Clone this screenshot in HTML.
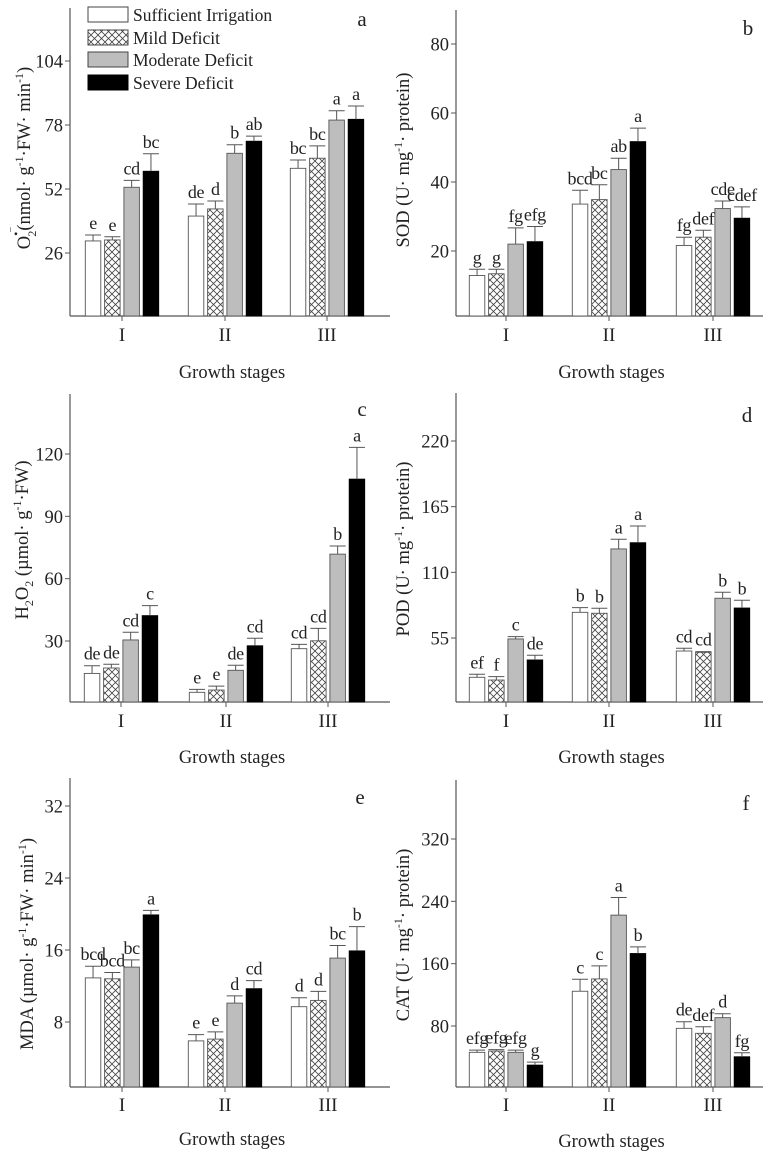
<!DOCTYPE html>
<html><head><meta charset="utf-8">
<style>
html,body{margin:0;padding:0;background:#fff;}
svg{display:block;font-family:"Liberation Serif","DejaVu Serif",serif;}
</style></head>
<body>
<svg id="fig" width="772" height="1153" viewBox="0 0 772 1153" xmlns="http://www.w3.org/2000/svg">
<defs>
<pattern id="hatch" patternUnits="userSpaceOnUse" width="7" height="7">
<rect width="7" height="7" fill="#fff"/>
<path d="M0,0 L7,7 M7,0 L0,7" stroke="#444" stroke-width="0.8"/>
</pattern>
</defs>
<g id="legend">
<rect x="88" y="7" width="40" height="15" fill="#fff" stroke="#444" stroke-width="1"/>
<text x="133" y="21" font-size="17.5" fill="#222">Sufficient Irrigation</text>
<rect x="88" y="30" width="40" height="15" fill="url(#hatch)" stroke="#444" stroke-width="1"/>
<text x="133" y="44" font-size="17.5" fill="#222">Mild Deficit</text>
<rect x="88" y="52" width="40" height="15" fill="#bdbdbd" stroke="#444" stroke-width="1"/>
<text x="133" y="66" font-size="17.5" fill="#222">Moderate Deficit</text>
<rect x="88" y="75" width="40" height="15" fill="#000" stroke="#000" stroke-width="1"/>
<text x="133" y="89" font-size="17.5" fill="#222">Severe Deficit</text>
</g>
</svg>
<script>
// ---- data ----
const categories = ["I","II","III"];
const seriesNames = ["Sufficient Irrigation","Mild Deficit","Moderate Deficit","Severe Deficit"];

const aTicks = [26,52,78,104];
const aVals = [[30.9,31.3,52.7,59.2],[41,43.9,66.5,71.4],[60.4,64.5,80,80.3]];
const aErr  = [[2.4,1.3,2.8,7.1],[4.9,3.2,3.5,2.1],[3.4,5,3.8,5.4]];
const aSig  = [["e","e","cd","bc"],["de","d","b","ab"],["bc","bc","a","a"]];

const bTicks = [20,40,60,80];
const bVals = [[12.9,13.4,22,22.7],[33.6,34.9,43.6,51.7],[21.6,24,32.3,29.5]];
const bErr  = [[1.8,1.3,4.7,4.4],[4,4.3,3.3,3.9],[2.4,2,2.2,3.3]];
const bSig  = [["g","g","fg","efg"],["bcd","bc","ab","a"],["fg","def","cde","cdef"]];

const cTicks = [30,60,90,120];
const cVals = [[14.4,17,30.5,42.2],[5.3,6.4,15.9,27.7],[26.3,30.1,71.8,107.9]];
const cErr  = [[3.7,1.8,3.7,4.8],[1.4,1.9,2.4,3.6],[2.1,6,3.9,15.3]];
const cSig  = [["de","de","cd","c"],["e","e","de","cd"],["cd","cd","b","a"]];

const dTicks = [55,110,165,220];
const dVals = [[22.1,19.8,54.2,36.6],[76.5,75.7,129.6,134.8],[44.1,43,88.3,80.1]];
const dErr  = [[2.5,2.8,1.9,3.9],[3.9,4.2,8.1,14],[2.3,0.6,5,6.5]];
const dSig  = [["ef","f","c","de"],["b","b","a","a"],["cd","cd","b","b"]];

const eTicks = [8,16,24,32];
const eVals = [[12.9,12.8,14.1,19.9],[5.9,6.1,10.1,11.7],[9.7,10.4,15.1,15.9]];
const eErr  = [[1.3,0.7,0.8,0.5],[0.7,0.8,0.8,0.9],[1,1,1.4,2.7]];
const eSig  = [["bcd","bcd","bc","a"],["e","e","d","cd"],["d","d","bc","b"]];

const fTicks = [80,160,240,320];
const fVals = [[46.2,47.8,46.2,29.8],[124.6,140.4,222.3,173],[77,70.6,90.7,40.5]];
const fErr  = [[2.9,1.9,2.8,3.9],[15.4,16.7,22.7,8.5],[8.5,8.4,5.1,5.1]];
const fSig  = [["efg","efg","efg","g"],["c","c","a","b"],["de","def","d","fg"]];

// ---- layout (pixels) ----
const panels = [
 {id:"a", ticks:aTicks, vals:aVals, err:aErr, sig:aSig, ax:70, top:8, bottom:316, right:390, v1:26, y1:253, v2:104, y2:61, gx:[122,225,327], letterX:362, letterY:26, catY:341, titleY:378, ylabX:30, ylabY:158},
 {id:"b", ticks:bTicks, vals:bVals, err:bErr, sig:bSig, ax:456, top:10, bottom:316, right:763, v1:20, y1:251, v2:80, y2:44, gx:[506,609,713], letterX:748, letterY:35, catY:341, titleY:378, ylabX:409, ylabY:160},
 {id:"c", ticks:cTicks, vals:cVals, err:cErr, sig:cSig, ax:70, top:394, bottom:702, right:390, v1:30, y1:641, v2:120, y2:454, gx:[121,226,328], letterX:362, letterY:416, catY:727, titleY:763, ylabX:28, ylabY:540},
 {id:"d", ticks:dTicks, vals:dVals, err:dErr, sig:dSig, ax:456, top:393, bottom:702, right:763, v1:55, y1:638, v2:220, y2:441, gx:[506,609,713], letterX:747, letterY:422, catY:727, titleY:763, ylabX:409, ylabY:549},
 {id:"e", ticks:eTicks, vals:eVals, err:eErr, sig:eSig, ax:70, top:778, bottom:1087, right:390, v1:8, y1:1022, v2:32, y2:806, gx:[122,225,328], letterX:360, letterY:804, catY:1111, titleY:1145, ylabX:33, ylabY:944},
 {id:"f", ticks:fTicks, vals:fVals, err:fErr, sig:fSig, ax:456, top:780, bottom:1087, right:763, v1:80, y1:1026, v2:320, y2:839, gx:[506,609,713], letterX:746, letterY:810, catY:1111, titleY:1147, ylabX:409, ylabY:935}
];
const ylabels = {
 a:'O<tspan font-size="12" dy="-10">•‾</tspan><tspan font-size="12" dx="-9" dy="16">2</tspan><tspan dy="-6">(nmol· g</tspan><tspan font-size="12" dy="-7">-1</tspan><tspan dy="7">·FW· min</tspan><tspan font-size="12" dy="-7">-1</tspan><tspan dy="7">)</tspan>',
 b:'SOD (U· mg<tspan font-size="12" dy="-7">-1</tspan><tspan dy="7">· protein)</tspan>',
 c:'H<tspan font-size="12" dy="5">2</tspan><tspan dy="-5">O</tspan><tspan font-size="12" dy="5">2</tspan><tspan dy="-5"> (µmol· g</tspan><tspan font-size="12" dy="-7">-1</tspan><tspan dy="7">·FW)</tspan>',
 d:'POD  (U· mg<tspan font-size="12" dy="-7">-1</tspan><tspan dy="7">· protein)</tspan>',
 e:'MDA (µmol· g<tspan font-size="12" dy="-7">-1</tspan><tspan dy="7">·FW· min</tspan><tspan font-size="12" dy="-7">-1</tspan><tspan dy="7">)</tspan>',
 f:'CAT  (U· mg<tspan font-size="12" dy="-7">-1</tspan><tspan dy="7">· protein)</tspan>'
};
const fills = ["#fff","url(#hatch)","#bdbdbd","#000"];
const NS = "http://www.w3.org/2000/svg";
const svg = document.getElementById("fig");
function mk(tag, attrs, parent){
  const el = document.createElementNS(NS, tag);
  for (const k in attrs) el.setAttribute(k, attrs[k]);
  (parent||svg).appendChild(el);
  return el;
}
const barW = 15.5, step = 19.3;
panels.forEach(p => {
  const k = (p.y1 - p.y2) / (p.v2 - p.v1);
  const y = v => p.y1 - (v - p.v1) * k;
  const g = mk("g", {});
  
  
  const yAxis = mk("line", {x1:p.ax, y1:p.top, x2:p.ax, y2:p.bottom, stroke:"#555", "stroke-width":1.2}, g);
  
  
  const xAxis = mk("line", {x1:p.ax, y1:p.bottom, x2:p.right, y2:p.bottom, stroke:"#555", "stroke-width":1.2}, g);
  
  
  p.ticks.forEach(t => {
    const ty = y(t);
    mk("line", {x1:p.ax-5, y1:ty, x2:p.ax, y2:ty, stroke:"#555", "stroke-width":1}, g);
    const tl = mk("text", {x:p.ax-7, y:ty+6.5, "text-anchor":"end", "font-size":18.5, fill:"#222"}, g);
    tl.textContent = t;
    
    
  });
  categories.forEach((c, gi) => {
    const cx = p.gx[gi];
    mk("line", {x1:cx, y1:p.bottom, x2:cx, y2:p.bottom+5, stroke:"#555", "stroke-width":1}, g);
    const cl = mk("text", {x:cx, y:p.catY, "text-anchor":"middle", "font-size":19, fill:"#222"}, g);
    cl.textContent = c;
    
    
    p.vals[gi].forEach((v, si) => {
      const bx = cx - 1.5*step - barW/2 + si*step;
      const top = y(v);
      const bar = mk("rect", {x:bx, y:top, width:barW, height:p.bottom-top, fill:fills[si], stroke: si===3?"#000":"#555", "stroke-width":0.9}, g);
      
      
      const ey = y(v + p.err[gi][si]);
      const mx = bx + barW/2;
      mk("line", {x1:mx, y1:top, x2:mx, y2:ey, stroke:"#555", "stroke-width":1}, g);
      const cap = mk("line", {x1:mx-8, y1:ey, x2:mx+8, y2:ey, stroke:"#555", "stroke-width":1}, g);
      
      
      const sl = mk("text", {x:mx, y:ey-6, "text-anchor":"middle", "font-size":18, "letter-spacing":"-0.3", fill:"#222"}, g);
      sl.textContent = p.sig[gi][si];
      
      
    });
  });
  const lt = mk("text", {x:p.letterX, y:p.letterY, "text-anchor":"middle", "font-size":21, fill:"#222"}, g);
  lt.textContent = p.id;
  
  
  const xt = mk("text", {x:(p.ax+p.right)/2 + 2, y:p.titleY, "text-anchor":"middle", "font-size":18.5, fill:"#222"}, g);
  xt.textContent = "Growth stages";
  
  
  const yt = mk("text", {x:0, y:0, "text-anchor":"middle", "font-size":18.5, fill:"#222", transform:"translate(" + p.ylabX + "," + p.ylabY + ") rotate(-90)"}, g);
  yt.innerHTML = ylabels[p.id];
  
  
});
svg.appendChild(document.getElementById("legend"));
</script>
</body></html>
